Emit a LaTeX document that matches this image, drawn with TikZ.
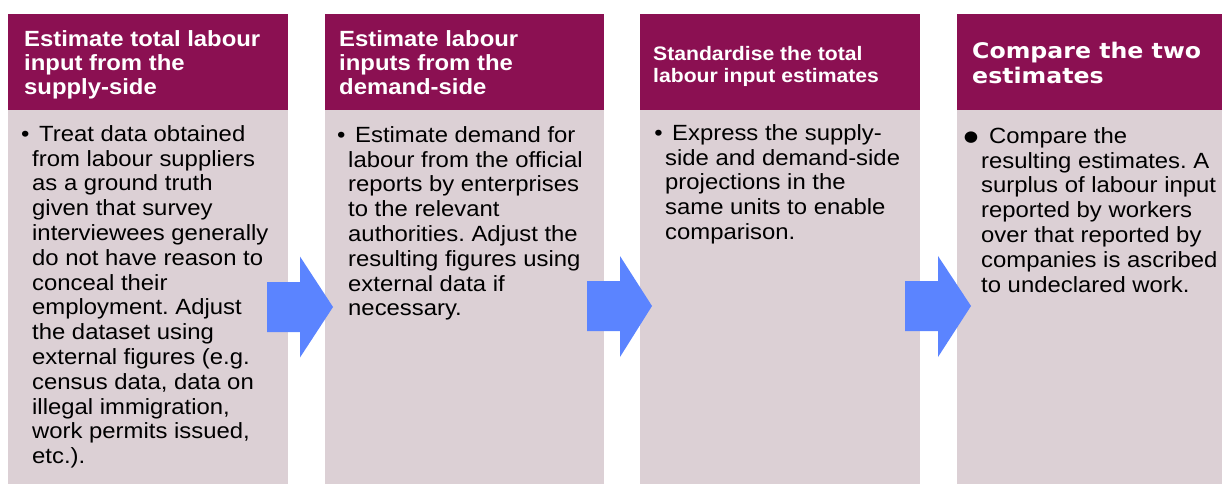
\documentclass[tikz,border=0pt]{standalone}
\usepackage{fontspec}
\setmainfont[FakeStretch=1.085]{Liberation Sans}
\newfontfamily\hdfour[FakeStretch=1.1]{DejaVu Sans}
\definecolor{hdrc}{RGB}{139,16,82}
\definecolor{bodyc}{RGB}{220,208,213}
\definecolor{arrowc}{RGB}{91,132,255}
\tikzset{
  hdrbox/.style={fill=hdrc, draw=none, inner sep=0pt, anchor=north west, minimum height=96pt},
  bodybox/.style={fill=bodyc, draw=none, inner sep=0pt, anchor=north west, minimum height=374pt},
  hdrtext/.style={text=white, inner sep=0pt, anchor=north west, align=left, font=\fontsize{22}{24}\selectfont\bfseries\frenchspacing},
  bodytext/.style={text=black, inner sep=0pt, anchor=north west, align=left, font=\fontsize{22}{24.8}\selectfont\frenchspacing},
  flowarrow/.style={fill=arrowc, draw=none}
}
\newcommand{\strutA}{\rule{0pt}{18pt}}
\newcommand{\bul}{\llap{\strutA•\hspace{2.6pt}}\hspace{7pt}}
\begin{document}
\begin{tikzpicture}[x=1pt,y=-1pt]
\useasboundingbox (0,0) rectangle (1222,484);
% boxes
\node[hdrbox, minimum width=280pt] (h1) at (8,14) {};
\node[bodybox, minimum width=280pt] (b1) at (8,110) {};
\node[hdrbox, minimum width=279pt] (h2) at (325,14) {};
\node[bodybox, minimum width=279pt] (b2) at (325,110) {};
\node[hdrbox, minimum width=280pt] (h3) at (640,14) {};
\node[bodybox, minimum width=280pt] (b3) at (640,110) {};
\node[hdrbox, minimum width=265pt] (h4) at (957,14) {};
\node[bodybox, minimum width=265pt] (b4) at (957,110) {};
% header texts
\node[hdrtext] (h1t) at (24,28) {\strutA Estimate total labour\\input from the\\supply-side};
\node[hdrtext] (h2t) at (339,28) {\strutA Estimate labour\\inputs from the\\demand-side};
\node[hdrtext, font=\fontsize{19.5}{22}\selectfont\bfseries] (h3t) at (653,44) {\rule{0pt}{16pt}Standardise the total\\labour input estimates};
\node[hdrtext, font=\fontsize{21.5}{25}\selectfont\hdfour\bfseries] (h4t) at (972,40) {\strutA Compare the two\\estimates};
% body texts
\node[bodytext] (b1t) at (32,123) {\bul Treat data obtained\\from labour suppliers\\as a ground truth\\given that survey\\interviewees generally\\do not have reason to\\conceal their\\employment. Adjust\\the dataset using\\external figures (e.g.\\census data, data on\\illegal immigration,\\work permits issued,\\etc.).};
\node[bodytext] (b2t) at (348,124) {\bul Estimate demand for\\labour from the official\\reports by enterprises\\to the relevant\\authorities. Adjust the\\resulting figures using\\external data if\\necessary.};
\node[bodytext] (b3t) at (665,122) {\bul Express the supply-\\side and demand-side\\projections in the\\same units to enable\\comparison.};
\node[bodytext] (b4t) at (981,125) {\llap{\strutA\raisebox{1.5pt}{\hdfour\fontsize{15}{15}\selectfont ●}\hspace{3pt}}\hspace{8pt}Compare the\\resulting estimates. A\\surplus of labour input\\reported by workers\\over that reported by\\companies is ascribed\\to undeclared work.};
% arrows
\fill[flowarrow] (267,282) -- (300,282) -- (300,256.5) -- (333,307) -- (300,357.5) -- (300,332) -- (267,332) -- cycle;
\fill[flowarrow] (587,281) -- (620,281) -- (620,256) -- (652,306) -- (620,357) -- (620,331) -- (587,331) -- cycle;
\fill[flowarrow] (905,281) -- (938,281) -- (938,256) -- (971,306) -- (938,357) -- (938,331) -- (905,331) -- cycle;
\end{tikzpicture}
\end{document}
